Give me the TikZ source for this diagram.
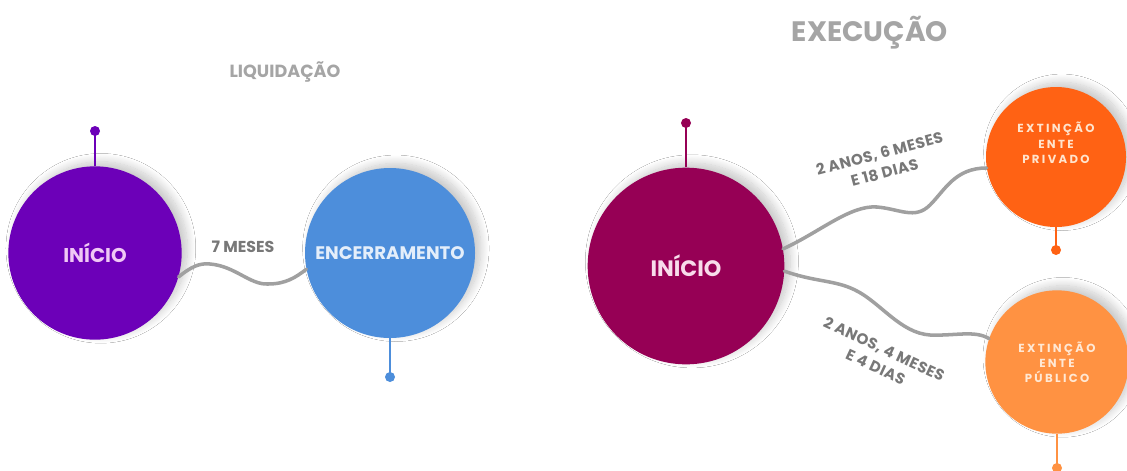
\documentclass[tikz,border=0pt]{standalone}
\usepackage{fontspec}
\setmainfont{Poppins}
\usetikzlibrary{shadows.blur}
\newcommand{\spaced}{\addfontfeature{LetterSpace=20}}

\begin{document}
\begin{tikzpicture}[x=0.03cm,y=-0.03cm,
    stage/.style={circle,inner sep=0pt,align=center,
      blur shadow={shadow xshift=5pt,shadow yshift=4pt,shadow blur steps=14,shadow blur radius=7pt,shadow opacity=22}},
    wave/.style={draw=linegray,line width=3pt,line cap=round},
    pinline/.style={line width=2.2pt},
    pindot/.style={radius=1.5mm},
    title/.style={text=titlegray,font=\bfseries\fontsize{15}{18}\selectfont},
    span/.style={text=labelgray,align=center,font=\bfseries\fontsize{13}{17}\selectfont\addfontfeature{LetterSpace=3}}]
    \definecolor{purpleA}{RGB}{108,0,184}
    \definecolor{blueB}{RGB}{77,142,219}
    \definecolor{wineC}{RGB}{150,0,85}
    \definecolor{orangeD}{RGB}{255,98,20}
    \definecolor{orangeE}{RGB}{255,146,66}
    \definecolor{linegray}{RGB}{160,160,160}
    \definecolor{titlegray}{RGB}{165,165,165}
    \definecolor{labelgray}{RGB}{120,120,120}
    \useasboundingbox[fill=white] (0,0) rectangle (1127,470);

    % liquidacao
    \node[title] (liqtitle) at (285,72) {LIQUIDAÇÃO};
    \node[stage,fill=purpleA,minimum size=5.2cm,text={rgb,255:red,240;green,200;blue,245},
      font=\bfseries\fontsize{17}{20}\selectfont] (liqini) at (95,253) {INÍCIO};
    \node[stage,fill=blueB,minimum size=5.1cm,text={rgb,255:red,228;green,238;blue,250},
      font=\bfseries\fontsize{15.5}{18}\selectfont] (liqend) at (390,253) {ENCERRAMENTO};
    \coordinate (liqinipin) at (95,131);
    \coordinate (liqendpin) at (390,377);
    \draw[pinline,purpleA] (liqini.north) -- (liqinipin);
    \fill[purpleA] (liqinipin) circle[pindot];
    \draw[pinline,blueB] (liqend.south) -- (liqendpin);
    \fill[blueB] (liqendpin) circle[pindot];
    \draw[wave] (liqini.-16) .. controls (192,266) and (200,263) .. (210,264)
      .. controls (235,266) and (250,285) .. (268,284)
      .. controls (285,284) and (295,278) .. (liqend.191);
    \node[span,font=\bfseries\fontsize{13.5}{15}\selectfont] (liqspan) at (243,247) {7 MESES};

    % execucao
    \node[title,font=\bfseries\fontsize{24}{28}\selectfont] (exetitle) at (870,33) {EXECUÇÃO};
    \node[stage,fill=wineC,minimum size=5.9cm,text={rgb,255:red,248;green,220;blue,235},
      font=\bfseries\fontsize{19}{22}\selectfont] (exeini) at (686,266) {INÍCIO};
    \node[stage,fill=orangeD,minimum size=4.2cm,
      label={[yshift=12pt,text={rgb,255:red,255;green,228;blue,205},align=center,
      font=\bfseries\fontsize{10}{13}\selectfont\spaced]center:EXTINÇÃO\\ENTE\\PRIVADO}] (priv) at (1056,157) {};
    \node[stage,fill=orangeE,minimum size=4.3cm,text={rgb,255:red,255;green,232;blue,212},
      font=\bfseries\fontsize{10}{13}\selectfont\spaced] (pub) at (1057,362) {EXTINÇÃO\\ENTE\\PÚBLICO};
    \coordinate (exeinipin) at (686,123);
    \coordinate (privpin) at (1056,250);
    \coordinate (pubpin) at (1057,468);
    \draw[pinline,wineC] (exeini.north) -- (exeinipin);
    \fill[wineC] (exeinipin) circle[pindot];
    \draw[pinline,orangeD] (priv.south) -- (privpin);
    \fill[orangeD] (privpin) circle[pindot];
    \draw[pinline,orangeE] (pub.south) -- (pubpin);
    \fill[orangeE] (pubpin) circle[pindot];
    \draw[wave] (exeini.10) .. controls (820,232) and (850,205) .. (877,207)
      .. controls (900,209) and (915,220) .. (930,205)
      .. controls (945,190) and (955,168) .. (priv.189);
    \draw[wave] (exeini.-3) .. controls (815,282) and (835,280) .. (855,290)
      .. controls (880,302) and (900,333) .. (930,335)
      .. controls (955,336) and (975,330) .. (pub.161);
    \node[span,rotate=15] (privspan) at (882,163) {2 ANOS, 6 MESES\\E 18 DIAS};
    \node[span,rotate=-25] (pubspan) at (880,358) {2 ANOS, 4 MESES\\E 4 DIAS};
\end{tikzpicture}
\end{document}
